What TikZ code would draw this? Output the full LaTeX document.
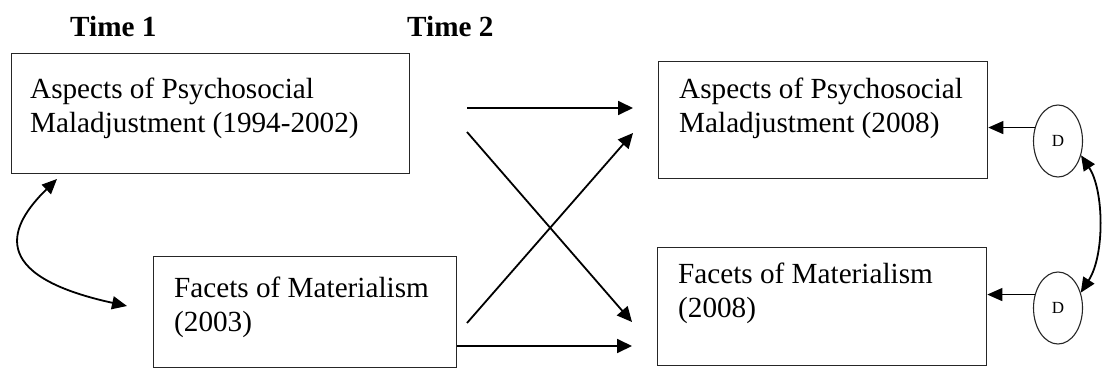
\documentclass[tikz,border=0pt]{standalone}
\usepackage{fontspec}
\setmainfont{Liberation Serif}
\usetikzlibrary{arrows.meta,calc,shapes.geometric}
\begin{document}
\begin{tikzpicture}[x=1pt,y=-1pt,
  box/.style={draw=black!85, line width=1.3pt, inner sep=0pt, anchor=north west},
  boxtext/.style={anchor=north west, inner sep=0pt, align=left,
    font=\fontsize{29.2}{34}\selectfont},
  timelabel/.style={anchor=base west, inner sep=0pt,
    font=\fontsize{29.2}{34}\selectfont\bfseries},
  err/.style={draw=black!85, line width=1.1pt, ellipse, inner sep=0pt,
    minimum width=49pt, minimum height=72pt, font=\fontsize{17}{17}\selectfont},
  arr/.style={line width=1.8pt, -{Triangle[length=15pt,width=14pt]}},
  thinarr/.style={line width=1.1pt, -{Triangle[length=15pt,width=13pt]}},
  corr/.style={line width=1.8pt, {Triangle[length=15pt,width=13pt]}-{Triangle[length=15pt,width=13pt]}}]
\useasboundingbox (0,0) rectangle (1102,369);

% column headings
\node[timelabel] (time1) at (70,37) {Time 1};
\node[timelabel] (time2) at (407,37) {Time 2};

% Time 1 measures
\node[box, minimum width=398pt, minimum height=120pt] (a1) at (11,53) {};
\node[boxtext] (a1t) at (30,78.1) {Aspects of Psychosocial\\Maladjustment (1994-2002)};
\node[box, minimum width=303pt, minimum height=111pt] (f1) at (153,256) {};
\node[boxtext] (f1t) at (174,277.1) {Facets of Materialism\\(2003)};

% Time 2 measures
\node[box, minimum width=329pt, minimum height=117pt] (a2) at (658,61) {};
\node[boxtext] (a2t) at (679,78.1) {Aspects of Psychosocial\\Maladjustment (2008)};
\node[box, minimum width=329pt, minimum height=118pt] (f2) at (657,247) {};
\node[boxtext] (f2t) at (678,263.1) {Facets of Materialism\\(2008)};

% residual terms
\node[err] (d1) at (1058,141) {D};
\node[err] (d2) at (1058,308) {D};

% path start points
\coordinate (s1) at (467,108);
\coordinate (s2) at (467,132);
\coordinate (e2) at (632,322);
\coordinate (s3) at (467,323);
\coordinate (e3) at (633,133);
\coordinate (s4) at (456,346);

% stability and cross-lagged paths
\draw[arr, shorten >=25pt] (s1) -- (s1 -| a2.west);
\draw[arr] (s2) -- (e2);
\draw[arr] (s3) -- (e3);
\draw[arr, shorten >=25pt] (s4 -| f1.east) -- (s4 -| f2.west);

% Time 1 correlation
\draw[corr] (57,179) .. controls (10,225) and (-15,275) .. (127,306);

% residuals
\draw[thinarr] (d1.150) -- (d1.150 -| a2.east);
\draw[thinarr] (d2.150) -- (d2.150 -| f2.east);
\draw[corr] (d1.-32) .. controls (1104,190) and (1105,255) .. (d2.34);
\end{tikzpicture}
\end{document}
